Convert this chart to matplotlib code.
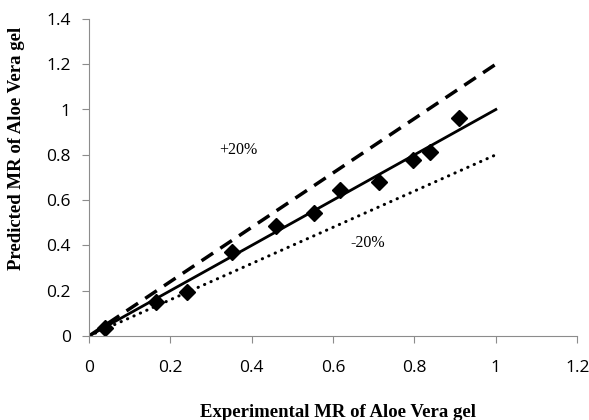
import numpy as np
import matplotlib
matplotlib.use('Agg')
import matplotlib.pyplot as plt

# experimental vs predicted moisture ratio
exp_mr = [0.04, 0.165, 0.242, 0.351, 0.460, 0.553, 0.617, 0.713, 0.797, 0.838, 0.91]
pred_mr = [0.037, 0.152, 0.196, 0.372, 0.486, 0.542, 0.645, 0.682, 0.777, 0.814, 0.962]

line_x = [0, 1]
xticks = [0, 0.2, 0.4, 0.6, 0.8, 1, 1.2]
yticks = [0, 0.2, 0.4, 0.6, 0.8, 1, 1.2, 1.4]
tick_labels_x = ['0', '0.2', '0.4', '0.6', '0.8', '1', '1.2']
tick_labels_y = ['0', '0.2', '0.4', '0.6', '0.8', '1', '1.2', '1.4']

fig = plt.figure(figsize=(5.89, 4.2), dpi=100)
ax = fig.add_axes([0.151, 0.2, 0.829, 0.755])

lx = np.array(line_x)
ax.plot(lx, 1.2 * lx, color='black', lw=2.5, linestyle=(0, (4, 2.5)))
ax.plot(lx, lx, color='black', lw=2)
ax.plot(lx, 0.8 * lx, color='black', lw=2.2, linestyle=(0, (0.1, 2.2)),
        dash_capstyle='round')
ax.plot(exp_mr, pred_mr, linestyle='none', marker='D', ms=8, color='black')

ax.text(0.367, 0.82, '+20%', fontsize=11.5, family='Liberation Serif', ha='center', va='center')
ax.text(0.686, 0.41, '-20%', fontsize=11.5, family='Liberation Serif', ha='center', va='center')

ax.set_xlim(0, 1.2)
ax.set_ylim(0, 1.4)
ax.set_xticks(xticks)
ax.set_xticklabels(tick_labels_x)
ax.set_yticks(yticks)
ax.set_yticklabels(tick_labels_y)
for lbl in ax.get_xticklabels() + ax.get_yticklabels():
    lbl.set_family('Open Sans')
    lbl.set_fontsize(12.5)

for s in ['top', 'right']:
    ax.spines[s].set_visible(False)
for s in ['left', 'bottom']:
    ax.spines[s].set_color('#8c8c8c')
ax.tick_params(axis='x', direction='out', length=5, color='#8c8c8c', pad=12)
ax.tick_params(axis='y', direction='out', length=5, color='#8c8c8c', pad=8)

ax.set_xlabel('Experimental MR of Aloe Vera gel', family='Liberation Serif',
              fontweight='bold', fontsize=13.5)
ax.set_ylabel('Predicted MR of Aloe Vera gel', family='Liberation Serif',
              fontweight='bold', fontsize=13.5)
ax.xaxis.set_label_coords(0.51, -0.215)
ax.yaxis.set_label_coords(-0.131, 0.593)

fig.savefig('out.png', dpi=100)
